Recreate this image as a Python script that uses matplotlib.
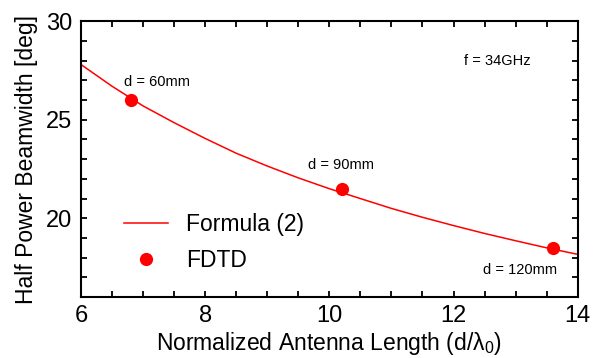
import numpy as np
import matplotlib
matplotlib.use("Agg")
import matplotlib.pyplot as plt
from matplotlib.ticker import MultipleLocator

plt.rcParams['font.family'] = ['Liberation Sans', 'DejaVu Sans']
plt.rcParams['mathtext.fontset'] = 'custom'
plt.rcParams['mathtext.rm'] = 'Liberation Sans'
plt.rcParams['mathtext.it'] = 'Liberation Sans'

# curve "Formula (2)"
x_formula = [6.0, 6.5, 7.0, 7.5, 8.0, 8.5, 9.0, 9.5, 10.0, 10.5, 11.0, 11.5,
             12.0, 12.5, 13.0, 13.5, 14.0]
y_formula = [27.8, 26.7, 25.7, 24.85, 24.05, 23.3, 22.65, 22.05, 21.5, 21.0,
             20.5, 20.05, 19.63, 19.23, 18.86, 18.5, 18.17]

# FDTD points
x_fdtd = [6.8, 10.2, 13.6]
y_fdtd = [26.0, 21.5, 18.5]
fdtd_labels = ["d = 60mm", "d = 90mm", "d = 120mm"]
label_pos = [(7.23, 26.9), (10.19, 22.7), (13.07, 17.4)]

fig = plt.figure(figsize=(5.95, 3.58), dpi=100)
ax = fig.add_axes([0.136, 0.170, 0.835, 0.771])

ax.plot(x_formula, y_formula, '-', color='#ff0000', lw=1.1, label='Formula (2)')
ax.plot(x_fdtd, y_fdtd, 'o', color='#ff0000', ms=9.5, mec='none', label='FDTD')

for t, (px, py) in zip(fdtd_labels, label_pos):
    ax.text(px, py, t, fontsize=10.5, ha='center', va='center')
ax.text(12.7, 28.0, "f = 34GHz", fontsize=10.5, ha='center', va='center')

ax.set_xlim(6, 14)
ax.set_ylim(16, 30)
ax.xaxis.set_major_locator(MultipleLocator(2))
ax.xaxis.set_minor_locator(MultipleLocator(0.5))
ax.yaxis.set_major_locator(MultipleLocator(5))
ax.yaxis.set_minor_locator(MultipleLocator(1))
ax.tick_params(which='both', direction='in', top=True, right=True, width=1.3, labelsize=17)
ax.tick_params(which='major', length=4, pad=6)
ax.tick_params(which='minor', length=4)
for s in ax.spines.values():
    s.set_linewidth(1.5)

ax.set_xlabel("Normalized Antenna Length (d/λ$_0$)", fontsize=16.5)
ax.set_ylabel("Half Power Beamwidth [deg]", fontsize=16.5)
ax.xaxis.set_label_coords(0.5, -0.12)
ax.yaxis.set_label_coords(-0.087, 0.5)

ax.legend(loc='lower left', bbox_to_anchor=(0.046, 0.015), frameon=False, fontsize=16.5,
          handlelength=1.9, handletextpad=0.8, labelspacing=0.6, numpoints=1)

fig.savefig("out.png", dpi=100)
